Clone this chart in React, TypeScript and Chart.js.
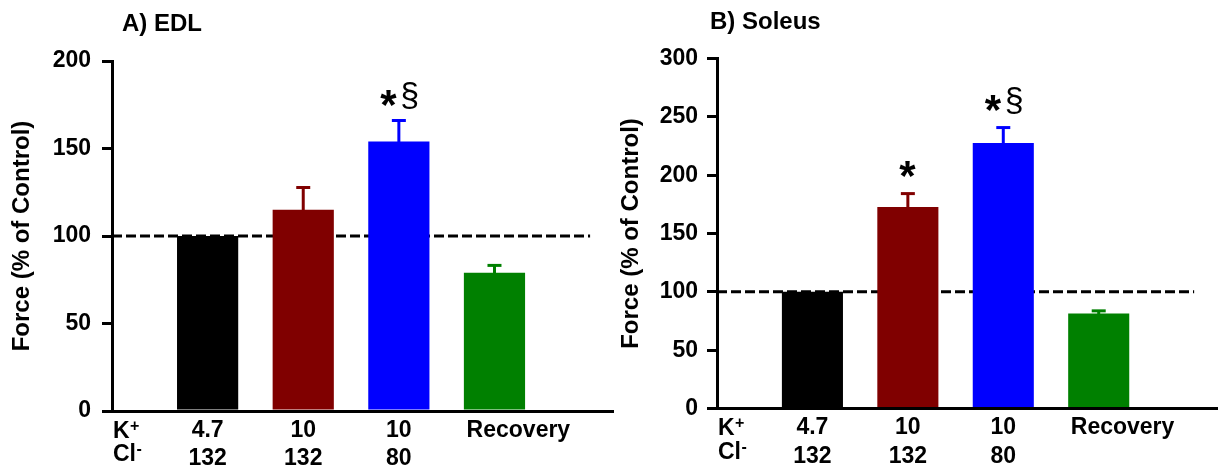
import React, { useEffect, useRef } from 'react';
import { Chart, registerables } from 'chart.js';

Chart.register(...registerables);

const FONT = "'Liberation Sans', Arial, Helvetica, sans-serif";

// ---- data ----
const barPositions = [1, 2, 3, 4];
const labelPositions = [1, 2, 3, 4.25];
const potassiumLabels = ['4.7', '10', '10', 'Recovery'];
const chlorideLabels = ['132', '132', '80', ''];
const barColors = ['#000000', '#800000', '#0000ff', '#008000'];

const edlValues = [100, 115, 154, 79];
const edlErrors = [0, 12.7, 12, 4.2];
const edlMarks = ['', '', '*§', ''];
const edlTitle = 'A) EDL';
const edlMax = 200;

const soleusValues = [100, 172.8, 227.6, 81.5];
const soleusErrors = [0, 11.4, 13.2, 2.2];
const soleusMarks = ['', '*', '*§', ''];
const soleusTitle = 'B) Soleus';
const soleusMax = 300;

const yStep = 50;
const yTitle = 'Force (% of Control)';
const controlLevel = 100;
const controlSpan = [0, 5];
const xRange = [0, 5.25];
const ionSymbols = ['K', 'Cl'];
const ionCharges = ['+', '-'];

type PanelCfg = {
  left: number;
  width: number;
  top: number;
  xAxisHeight: number;
  yAxisWidth: number;
  yPad: number;
  max: number;
  values: number[];
  errors: number[];
  marks: string[];
  title: string;
  titleX: number;
  titleBaseline: number;
  markGap: number;
};

function drawInk(ctx: CanvasRenderingContext2D, text: string, font: string, cx: number, cy: number) {
  ctx.font = font;
  ctx.textAlign = 'left';
  ctx.textBaseline = 'alphabetic';
  const m = ctx.measureText(text);
  const w = m.actualBoundingBoxLeft + m.actualBoundingBoxRight;
  const x = cx - w / 2 + m.actualBoundingBoxLeft;
  const y = cy + (m.actualBoundingBoxAscent - m.actualBoundingBoxDescent) / 2;
  ctx.fillText(text, x, y);
}

function makeDecorPlugin(p: PanelCfg) {
  return {
    id: 'decor',
    afterDatasetsDraw(chart: any) {
      const ctx: CanvasRenderingContext2D = chart.ctx;
      const ys = chart.scales.y;
      const area = chart.chartArea;
      const meta = chart.getDatasetMeta(0);
      ctx.save();
      meta.data.forEach((el: any, i: number) => {
        const v = p.values[i];
        const err = p.errors[i];
        const yTop = ys.getPixelForValue(v + err);
        if (err > 0) {
          const yBar = ys.getPixelForValue(v);
          ctx.strokeStyle = barColors[i];
          ctx.lineWidth = 3;
          ctx.lineCap = 'butt';
          ctx.beginPath();
          ctx.moveTo(el.x, yBar + 1);
          ctx.lineTo(el.x, yTop);
          ctx.stroke();
          ctx.beginPath();
          ctx.moveTo(el.x - 7, yTop);
          ctx.lineTo(el.x + 7, yTop);
          ctx.stroke();
        }
        const mark = p.marks[i];
        if (mark) {
          ctx.fillStyle = '#000';
          const starY = yTop - p.markGap;
          if (mark.includes('§')) {
            drawInk(ctx, '*', `bold 42px ${FONT}`, el.x - 10, starY);
            drawInk(ctx, '§', `34px ${FONT}`, el.x + 10.5, starY - 2.5);
          } else {
            drawInk(ctx, '*', `bold 42px ${FONT}`, el.x, starY);
          }
        }
      });

      // panel title
      ctx.fillStyle = '#000';
      ctx.font = `bold 24px ${FONT}`;
      ctx.textAlign = 'left';
      ctx.textBaseline = 'alphabetic';
      ctx.fillText(p.title, p.titleX, p.titleBaseline);

      // ion row labels (K+, Cl-)
      const rowCenters = [area.bottom + 18.5, area.bottom + 42];
      ionSymbols.forEach((sym, r) => {
        const base = rowCenters[r] + 8.2;
        const x0 = area.left + 1;
        ctx.font = `bold 23px ${FONT}`;
        ctx.fillText(sym, x0, base);
        const w = ctx.measureText(sym).width;
        ctx.font = `bold 16px ${FONT}`;
        ctx.fillText(ionCharges[r], x0 + w + 0.5, base - 7);
      });
      ctx.restore();
    },
  };
}

function buildConfig(p: PanelCfg): any {
  const tickFont = { family: FONT, size: 23, weight: 'bold' as const, lineHeight: 1.25 };
  return {
    type: 'bar',
    data: {
      datasets: [
        {
          type: 'bar',
          data: barPositions.map((x, i) => ({ x, y: p.values[i] })),
          backgroundColor: barColors,
          borderWidth: 0,
          barPercentage: 0.64,
          categoryPercentage: 1,
          order: 1,
        },
        {
          type: 'line',
          data: controlSpan.map((x) => ({ x, y: controlLevel })),
          borderColor: '#000000',
          borderWidth: 3,
          borderDash: [10, 4],
          pointRadius: 0,
          fill: false,
          order: 2,
        },
      ],
    },
    options: {
      animation: false,
      responsive: false,
      maintainAspectRatio: false,
      layout: { padding: { top: p.top, left: 0, right: 0, bottom: 0 } },
      plugins: {
        legend: { display: false },
        tooltip: { enabled: false },
        title: { display: false },
      },
      scales: {
        x: {
          type: 'linear',
          min: xRange[0],
          max: xRange[1],
          offset: false,
          grid: { display: false, drawTicks: false, tickLength: 0 },
          border: { display: true, color: '#000000', width: 3 },
          afterBuildTicks: (s: any) => {
            s.ticks = labelPositions.map((v) => ({ value: v }));
          },
          afterFit: (s: any) => {
            s.height = p.xAxisHeight;
          },
          ticks: {
            autoSkip: false,
            maxRotation: 0,
            minRotation: 0,
            padding: 5,
            color: '#000000',
            font: tickFont,
            callback: (value: number) => {
              const i = labelPositions.indexOf(value);
              if (i < 0) return '';
              return chlorideLabels[i] ? [potassiumLabels[i], chlorideLabels[i]] : potassiumLabels[i];
            },
          },
        },
        y: {
          min: 0,
          max: p.max,
          afterFit: (s: any) => {
            s.width = p.yAxisWidth;
          },
          ticks: {
            stepSize: yStep,
            padding: p.yPad,
            color: '#000000',
            font: { family: FONT, size: 23, weight: 'bold' },
          },
          grid: {
            drawOnChartArea: false,
            drawTicks: true,
            tickLength: 10,
            color: '#000000',
            lineWidth: 3,
          },
          border: { display: true, color: '#000000', width: 3 },
          title: {
            display: true,
            text: yTitle,
            color: '#000000',
            font: { family: FONT, size: 24, weight: 'bold', lineHeight: 1.2 },
            padding: { top: 8, bottom: 0 },
          },
        },
      },
    },
    plugins: [makeDecorPlugin(p)],
  };
}

const leftPanel: PanelCfg = {
  left: 0,
  width: 614,
  top: 61,
  xAxisHeight: 62,
  yAxisWidth: 112,
  yPad: 11,
  max: edlMax,
  values: edlValues,
  errors: edlErrors,
  marks: edlMarks,
  title: edlTitle,
  titleX: 122,
  titleBaseline: 31,
  markGap: 22.5,
};

const rightPanel: PanelCfg = {
  left: 609,
  width: 609,
  top: 58.5,
  xAxisHeight: 64.5,
  yAxisWidth: 108,
  yPad: 9,
  max: soleusMax,
  values: soleusValues,
  errors: soleusErrors,
  marks: soleusMarks,
  title: soleusTitle,
  titleX: 101,
  titleBaseline: 28.5,
  markGap: 25,
};

function Panel({ cfg }: { cfg: PanelCfg }) {
  const ref = useRef<HTMLCanvasElement | null>(null);
  useEffect(() => {
    if (!ref.current) return;
    const chart = new Chart(ref.current, buildConfig(cfg));
    return () => chart.destroy();
  }, [cfg]);
  return (
    <canvas
      ref={ref}
      width={cfg.width}
      height={473}
      style={{ position: 'absolute', left: cfg.left, top: 0, width: cfg.width, height: 473 }}
    />
  );
}

export default function App() {
  return (
    <div
      style={{
        position: 'absolute',
        left: 0,
        top: 0,
        width: 1218,
        height: 473,
        background: '#ffffff',
        overflow: 'hidden',
      }}
    >
      <Panel cfg={leftPanel} />
      <Panel cfg={rightPanel} />
    </div>
  );
}
